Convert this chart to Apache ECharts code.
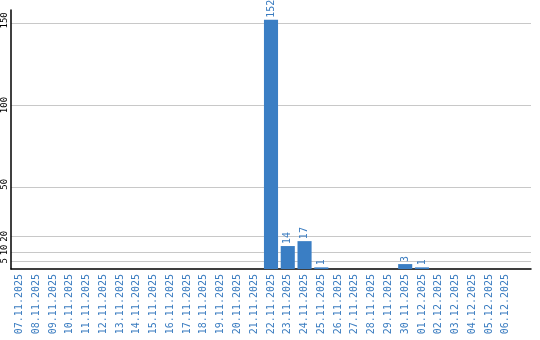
<!DOCTYPE html>
<html><head><meta charset="utf-8">
<script src="https://cdn.jsdelivr.net/npm/echarts@6/dist/echarts.min.js"></script>
<style>html,body{margin:0;padding:0;background:#fff}#c{width:540px;height:340px}</style>
</head><body><div id="c"></div>
<script>
const categories = ["07.11.2025","08.11.2025","09.11.2025","10.11.2025","11.11.2025","12.11.2025","13.11.2025","14.11.2025","15.11.2025","16.11.2025","17.11.2025","18.11.2025","19.11.2025","20.11.2025","21.11.2025","22.11.2025","23.11.2025","24.11.2025","25.11.2025","26.11.2025","27.11.2025","28.11.2025","29.11.2025","30.11.2025","01.12.2025","02.12.2025","03.12.2025","04.12.2025","05.12.2025","06.12.2025",""];
const values = [0,0,0,0,0,0,0,0,0,0,0,0,0,0,0,152,14,17,1,0,0,0,0,3,1,0,0,0,0,0,null];
const yTicks = [5,10,20,50,100,150];
const yTicksA = [5,20,100];
const yTicksB = [10,50,150];
const yMax = 158;

const baseLabel = {rotate:90,color:'#000',fontFamily:'DejaVu Sans Mono',fontSize:9,margin:2,
  hideOverlap:false,showMinLabel:true,showMaxLabel:true};

const chart = echarts.init(document.getElementById('c'), null, {renderer:'canvas'});
chart.setOption({
  animation:false,
  grid:{left:11,right:9,top:10,bottom:71,containLabel:false},
  xAxis:{type:'category',data:categories,
    axisLine:{lineStyle:{color:'#000',width:1.5}},
    axisTick:{show:false},
    axisLabel:{rotate:90,interval:0,color:'#3a7cc0',fontFamily:'DejaVu Sans Mono',fontSize:10,margin:5}
  },
  yAxis:[
    {type:'value',min:0,max:yMax,position:'left',
      axisLine:{show:true,lineStyle:{color:'#000',width:1.5}},
      axisTick:{show:false,customValues:yTicks},
      splitLine:{show:true,lineStyle:{color:'#c8c8c8',width:1}},
      axisLabel:Object.assign({customValues:yTicksA,formatter:v=>String(v)},baseLabel)},
    {type:'value',min:0,max:yMax,position:'left',offset:0,
      axisLine:{show:false},
      axisTick:{show:false},
      splitLine:{show:false},
      axisLabel:Object.assign({customValues:yTicksB,formatter:v=>' '+String(v)},baseLabel)}
  ],
  series:[
    {type:'bar',data:values,barWidth:'84%',z:3,yAxisIndex:0,
      itemStyle:{color:'#3a7ec4'},
      label:{show:true,position:'top',rotate:90,align:'left',verticalAlign:'middle',distance:2,
        color:'#3a7cc0',fontFamily:'DejaVu Sans Mono',fontSize:10,
        formatter:p=>p.value?String(p.value):''}}
  ]
});
</script></body></html>
